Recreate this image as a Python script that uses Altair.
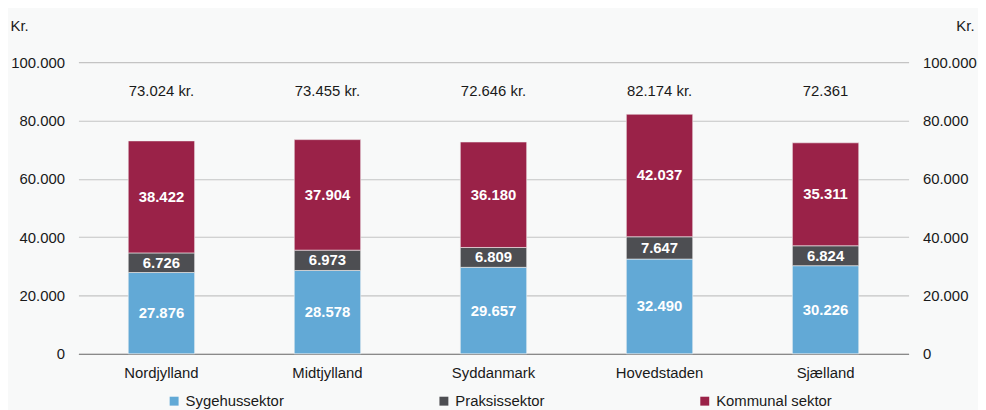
import altair as alt
import pandas as pd

regions = ["Nordjylland", "Midtjylland", "Syddanmark", "Hovedstaden", "Sjælland"]
sygehus = [27876, 28578, 29657, 32490, 30226]
praksis = [6726, 6973, 6809, 7647, 6824]
kommunal = [38422, 37904, 36180, 42037, 35311]
total_labels = ["73.024 kr.", "73.455 kr.", "72.646 kr.", "82.174 kr.", "72.361"]
sectors = ["Sygehussektor", "Praksissektor", "Kommunal sektor"]
colors = ["#62a9d6", "#4d4e52", "#9a2248"]

rows = []
for i, r in enumerate(regions):
    for k, (s, vals) in enumerate(zip(sectors, [sygehus, praksis, kommunal])):
        v = vals[i]
        rows.append({"region": r, "sector": s, "order": k, "value": v,
                     "label": f"{v:,}".replace(",", ".")})
df = pd.DataFrame(rows)
tot = pd.DataFrame({"region": regions, "label": total_labels})

FONT = "Liberation Sans"
TXT = "#1a1a1a"
xscale = alt.Scale(paddingInner=0.6, paddingOuter=0.3)
xenc = alt.X("region:N", sort=regions, scale=xscale,
             axis=alt.Axis(title=None, labelAngle=0, ticks=False, domain=True,
                           domainColor="#8a8a8a", domainWidth=1.2,
                           labelPadding=12, labelFontSize=15, labelColor=TXT,
                           labelFont=FONT))
yscale = alt.Scale(domain=[0, 100000])
yvals = [0, 20000, 40000, 60000, 80000, 100000]
label_expr = "replace(format(datum.value, ',d'), ',', '.')"

bars = alt.Chart(df).mark_bar(stroke="#f4f4f4", strokeWidth=0.6).encode(
    x=xenc,
    y=alt.Y("value:Q", stack="zero", scale=yscale,
            axis=alt.Axis(title="Kr.", orient="left", values=yvals,
                          labelExpr=label_expr, ticks=False, domain=False,
                          grid=True, gridColor="#c4c4c4", gridWidth=1.2,
                          labelPadding=14, labelFontSize=15, labelColor=TXT, labelFont=FONT,
                          titleAngle=0, titleX=-69, titleY=-32, titleAlign="left",
                          titleBaseline="alphabetic", titleFontSize=15,
                          titleFontWeight="normal", titleFont=FONT, titleColor=TXT)),
    color=alt.Color("sector:N", sort=sectors,
                    scale=alt.Scale(domain=sectors, range=colors),
                    legend=alt.Legend(title=None, orient="none", direction="horizontal",
                                      columns=3, columnPadding=153, legendX=89, legendY=334,
                                      symbolType="square", symbolSize=81, symbolStrokeWidth=0,
                                      labelFontSize=15, labelFont=FONT, labelColor=TXT,
                                      labelOffset=4, padding=0)),
    order=alt.Order("order:Q"),
)

right_axis = alt.Chart(df).mark_bar(opacity=0).encode(
    x=alt.X("region:N", sort=regions, scale=xscale),
    y=alt.Y("value:Q", stack="zero", scale=yscale,
            axis=alt.Axis(title="Kr.", orient="right", values=yvals,
                          labelExpr=label_expr, ticks=False, domain=False, grid=False,
                          labelPadding=14, labelFontSize=15, labelColor=TXT, labelFont=FONT,
                          titleAngle=0, titleX=66, titleY=-32, titleAlign="right",
                          titleBaseline="alphabetic", titleFontSize=15,
                          titleFontWeight="normal", titleFont=FONT, titleColor=TXT)),
)

seg_text = alt.Chart(df).transform_stack(
    stack="value", groupby=["region"], as_=["y0", "y1"], sort=[alt.SortField("order")]
).transform_calculate(mid="(datum.y0 + datum.y1) / 2").mark_text(
    color="white", fontWeight="bold", fontSize=15, font=FONT, baseline="middle"
).encode(
    x=alt.X("region:N", sort=regions, scale=xscale),
    y=alt.Y("mid:Q", scale=yscale, axis=None),
    text="label:N",
)

tot_text = alt.Chart(tot).mark_text(
    color=TXT, fontSize=15, font=FONT, baseline="middle"
).encode(
    x=alt.X("region:N", sort=regions, scale=xscale),
    y=alt.Y(datum=90000, scale=yscale, axis=None),
    text="label:N",
)

chart = alt.layer(bars, right_axis, seg_text, tot_text).resolve_axis(y="independent").properties(
    width=837, height=294,
    autosize=alt.AutoSizeParams(type="none"),
    padding={"left": 71, "top": 53, "right": 70, "bottom": 56},
    background="#f8f9f9",
).configure_view(stroke=None)

chart.save("out.html", embed_options={"renderer": "svg", "actions": False})
